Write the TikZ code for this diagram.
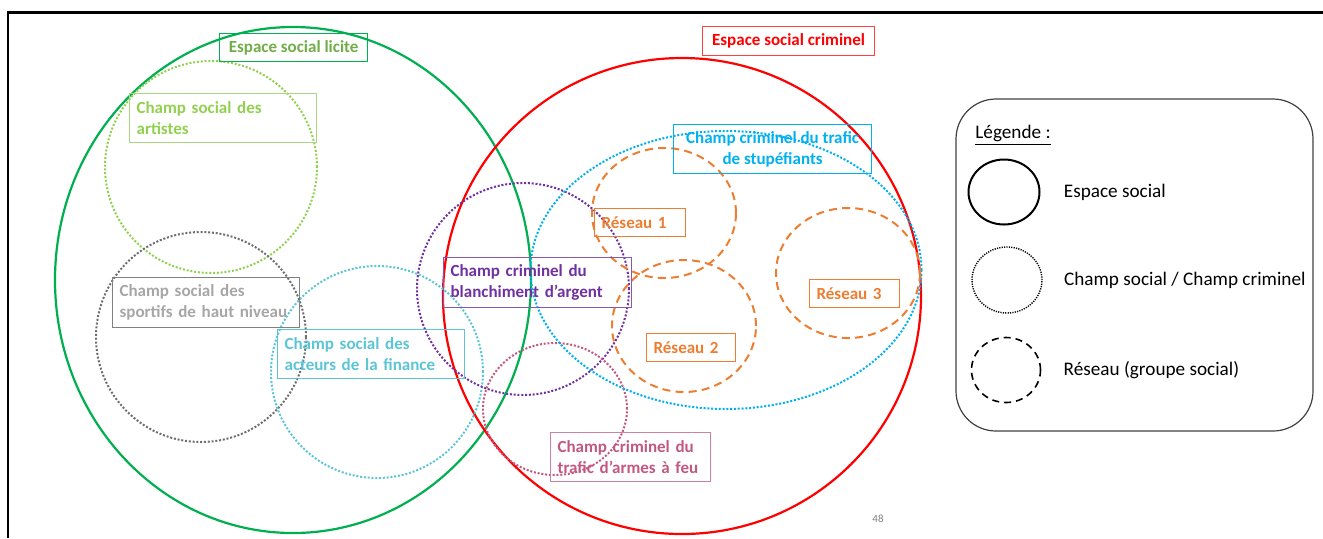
\documentclass[tikz,border=0pt]{standalone}
\usepackage{fontspec}
\setmainfont{Carlito}
\usetikzlibrary{positioning}
\usetikzlibrary{shapes.geometric}

\definecolor{liciteGreen}{RGB}{0,176,80}
\definecolor{liciteText}{RGB}{112,173,71}
\definecolor{criminelRed}{RGB}{255,0,0}
\definecolor{artistesGreen}{RGB}{146,208,80}
\definecolor{artistesBox}{RGB}{169,214,130}
\definecolor{sportifsDots}{RGB}{110,110,110}
\definecolor{sportifsText}{RGB}{166,166,166}
\definecolor{sportifsBox}{RGB}{128,128,128}
\definecolor{financeTeal}{RGB}{91,197,213}
\definecolor{blanchPurple}{RGB}{112,48,160}
\definecolor{blanchBox}{RGB}{134,88,180}
\definecolor{armesPink}{RGB}{194,88,128}
\definecolor{armesBox}{RGB}{206,130,158}
\definecolor{stupBlue}{RGB}{0,176,240}
\definecolor{reseauOrange}{RGB}{237,125,49}
\definecolor{legendGrey}{RGB}{64,64,64}

\begin{document}
\begin{tikzpicture}[x=0.5pt, y=-0.5pt,
    espace/.style={line width=1.1pt},
    champ/.style={line width=1pt, dash pattern=on 1pt off 0.9pt},
    reseau/.style={line width=1pt, dash pattern=on 4pt off 2.6pt, draw=reseauOrange},
    lbl/.style={draw, line width=0.6pt, anchor=north west, inner xsep=3.5pt, inner ysep=0pt,
      font=\bfseries\fontsize{8.5}{10.5}\selectfont},
    legtxt/.style={anchor=west, inner sep=0pt, font=\fontsize{9.6}{11.5}\selectfont}]
  \useasboundingbox (0,0) rectangle (1323,538);

  % frame of the slide
  \draw[line width=1.15pt] (8,538) -- (8,12.5) -- (1323,12.5);

  % espaces sociaux
  \draw[espace, liciteGreen] (293,280) ellipse [x radius=119pt, y radius=126.5pt];
  \draw[espace, criminelRed] (682,296) ellipse [x radius=119.5pt, y radius=119pt];

  % champs
  \draw[champ, artistesGreen] (211,167) ellipse [x radius=53pt, y radius=53pt];
  \draw[champ, sportifsDots] (201,337) ellipse [x radius=52.5pt, y radius=52.5pt];
  \draw[champ, financeTeal] (377,372) ellipse [x radius=53pt, y radius=53pt];
  \draw[champ, blanchPurple] (523,289) ellipse [x radius=53pt, y radius=53pt];
  \draw[champ, armesPink] (555,409) ellipse [x radius=36pt, y radius=33pt];
  \draw[champ, stupBlue] (726,270) ellipse [x radius=97.75pt, y radius=69.5pt];

  % reseaux
  \draw[reseau] (664,213) ellipse [x radius=36pt, y radius=32.5pt];
  \draw[reseau] (684,326) ellipse [x radius=36pt, y radius=33pt];
  \draw[reseau] (848,273) ellipse [x radius=36pt, y radius=32.5pt];

  % labels
  \node[lbl, draw=liciteGreen, text=liciteText, minimum width=74pt, minimum height=14pt] (licite) at (219,33) {Espace social licite};
  \node[lbl, draw=criminelRed!75, text=criminelRed, minimum width=86pt, minimum height=14.5pt] (criminel) at (702,26) {Espace social criminel};
  \node[lbl, draw=artistesBox, text=artistesGreen, text width=86.5pt, minimum height=24.5pt, align=left] (artistes) at (129,93) {Champ social des\\artistes};
  \node[lbl, draw=sportifsBox, text=sportifsText, text width=86.5pt, minimum height=25pt, align=left] (sportifs) at (112,277) {Champ social des\\sportifs de haut niveau};
  \node[lbl, draw=financeTeal, text=financeTeal, text width=86.5pt, minimum height=24.5pt, align=left] (finance) at (277,329) {Champ social des\\acteurs de la finance};
  \node[lbl, draw=blanchBox, text=blanchPurple, text width=87pt, minimum height=25pt, align=left] (blanchiment) at (443,257) {Champ criminel du\\blanchiment d’argent};
  \node[lbl, draw=armesBox, text=armesPink, text width=73pt, minimum height=24.5pt, align=left] (armes) at (550,432) {Champ criminel du\\trafic d’armes à feu};
  \node[lbl, draw=stupBlue, text=stupBlue, minimum width=99pt, minimum height=24.5pt, align=center] (stupefiants) at (673,124) {Champ criminel du trafic\\de stupéfiants};
  \node[lbl, draw=reseauOrange, text=reseauOrange, text width=38.5pt, minimum height=14pt, align=left] (reseau1) at (594,208) {Réseau 1};
  \node[lbl, draw=reseauOrange, text=reseauOrange, text width=37.5pt, minimum height=14pt, align=left] (reseau2) at (646,333) {Réseau 2};
  \node[lbl, draw=reseauOrange, text=reseauOrange, text width=38pt, minimum height=14pt, align=left] (reseau3) at (809,279) {Réseau 3};

  % legende
  \draw[line width=0.6pt, legendGrey, rounded corners=20pt] (956,99) rectangle (1313,431);
  \node[legtxt] (legTitle) at (975,135) {\underline{Légende :}};
  \node[ellipse, draw, line width=1pt, inner sep=0pt, minimum width=35.5pt, minimum height=32.5pt] (symEspace) at (1004,192) {};
  \node[ellipse, draw, line width=0.7pt, dash pattern=on 0.6pt off 0.6pt, inner sep=0pt, minimum width=35pt, minimum height=33pt] (symChamp) at (1007,280) {};
  \node[ellipse, draw, line width=0.8pt, dash pattern=on 3.5pt off 2.5pt, inner sep=0pt, minimum width=34.5pt, minimum height=32.5pt] (symReseau) at (1006,370) {};
  \node[legtxt, right=11.5pt of symEspace] (legEspace) {Espace social};
  \node[legtxt, right=10.5pt of symChamp] (legChamp) {Champ social / Champ criminel};
  \node[legtxt, right=11pt of symReseau] (legReseau) {Réseau (groupe social)};

  \node[text=gray, font=\fontsize{5.5}{6}\selectfont] (pageNum) at (878,519) {48};
\end{tikzpicture}
\end{document}
